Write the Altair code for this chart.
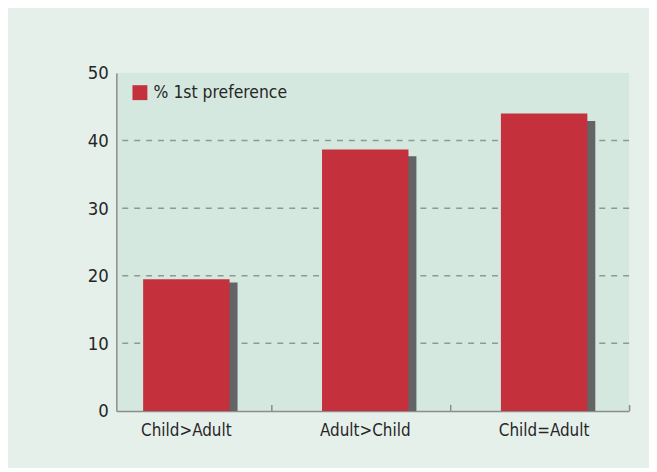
import altair as alt
import pandas as pd

categories = ["Child>Adult", "Adult>Child", "Child=Adult"]
first_pref = [19.5, 38.7, 44.0]
shadow_vals = [19.0, 37.7, 42.9]
grid_vals = [10, 20, 30, 40]
y_ticks = [0, 10, 20, 30, 40, 50]
series_name = "% 1st preference"

bars = pd.DataFrame({
    "cat": categories,
    "value": first_pref,
    "shadow": shadow_vals,
    "series": [series_name] * len(categories),
})
grid = pd.DataFrame({"g": grid_vals})

FONT = "DejaVu Sans Condensed"
RED = "#c4303b"
SHADOW = "#636466"
AXIS_GREY = "#8c8c8c"
TEXT = "#262626"

xscale = alt.Scale(domain=categories, paddingInner=0.5167, paddingOuter=0.1917, align=0.391)
yscale = alt.Scale(domain=[0, 50], nice=False, zero=True)

x_axis = alt.Axis(title=None, labelAngle=0, labelFontSize=17, labelColor=TEXT, labelFont=FONT,
                  ticks=False, domainColor=AXIS_GREY, domainWidth=1.5, labelPadding=12, grid=False)
y_axis = alt.Axis(title=None, values=y_ticks, grid=False, ticks=False, labelFontSize=18.5,
                  labelColor=TEXT, labelFont=FONT, labelPadding=8, domainColor=AXIS_GREY, domainWidth=1.5)


def xe(field="cat"):
    return alt.X(f"{field}:N", scale=xscale, sort=categories, axis=x_axis)


def ye(field):
    return alt.Y(f"{field}:Q", scale=yscale, axis=y_axis)


grid_layer = alt.Chart(grid).mark_rule(color="#8f9894", strokeWidth=1.5, strokeDash=[6, 6]).encode(
    y=ye("g")
)

shadow_layer = alt.Chart(bars).mark_bar(color=SHADOW, xOffset=8).encode(
    x=xe(), y=ye("shadow")
)

red_layer = alt.Chart(bars).mark_bar().encode(
    x=xe(),
    y=ye("value"),
    color=alt.Color("series:N", scale=alt.Scale(domain=[series_name], range=[RED]),
                    legend=alt.Legend(orient="none", legendX=15, legendY=11, padding=0, title=None,
                                      symbolType="square", symbolSize=225, symbolStrokeWidth=0,
                                      labelFontSize=17.5, labelFont=FONT, labelColor=TEXT, labelOffset=5)),
)

tick_layer = alt.Chart(bars).mark_rule(color=AXIS_GREY, strokeWidth=1.5, xOffset=86).encode(
    x=xe(), y=alt.value(334), y2=alt.value(340)
)

chart = alt.layer(grid_layer, shadow_layer, red_layer, tick_layer).properties(
    width=516,
    height=340,
    padding={"left": 109, "top": 64, "right": 20, "bottom": 56},
    autosize="none",
    background="#e6f0eb",
).configure_view(fill="#d5e8e0", strokeWidth=0)

chart.save("out.html", embed_options={"renderer": "svg", "actions": False})
